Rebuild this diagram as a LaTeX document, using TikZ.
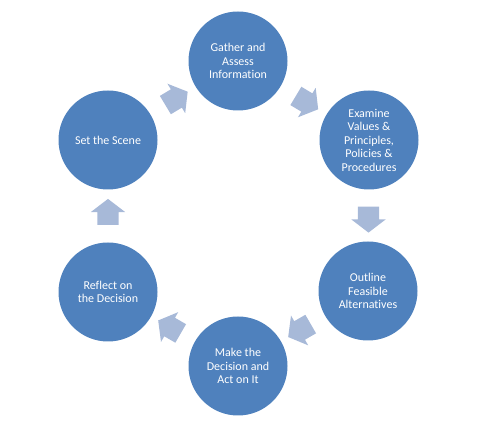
\documentclass[tikz,border=0pt]{standalone}
\usepackage{fontspec}
\setmainfont{Carlito}[Ligatures=NoCommon]
\usetikzlibrary{shapes.arrows, calc}

\definecolor{stageblue}{RGB}{79,129,189}
\definecolor{flowblue}{RGB}{167,185,216}

\tikzset{
  stage/.style={circle, fill=stageblue, text=white, minimum size=99pt, inner sep=0pt,
    align=center, font=\fontsize{12}{13.5}\selectfont},
  flow/.style={single arrow, fill=flowblue, inner xsep=0pt, inner ysep=10.5pt,
    minimum height=26pt, single arrow head extend=6.5pt, single arrow tip angle=105}
}

\begin{document}
\begin{tikzpicture}[x=1pt, y=-1pt]
\useasboundingbox (0,0) rectangle (496,435);
\coordinate (hub) at (238,215);
\node[stage] (gather) at ($(hub)+(0,-154)$) {Gather and\\Assess\\Information};
\node[stage] (examine) at ($(hub)+(131,-75)$) {Examine\\Values \&\\Principles,\\Policies \&\\Procedures};
\node[stage] (outline) at ($(hub)+(130,76)$) {Outline\\Feasible\\Alternatives};
\node[stage] (decide) at ($(hub)+(0,151)$) {Make the\\Decision and\\Act on It};
\node[stage] (reflect) at ($(hub)+(-130,77)$) {Reflect on\\the Decision};
\node[stage] (scene) at ($(hub)+(-130,-75)$) {Set the Scene};
% block arrows between the stages
\node[flow, rotate=-31] (f1) at ($(gather)!0.5!(examine)$) {};
\node[flow, rotate=-90] (f2) at ($(examine)!0.5!(outline)$) {};
\node[flow, rotate=-150] (f3) at ($(outline)!0.5!(decide)$) {};
\node[flow, rotate=150] (f4) at ($(decide)!0.5!(reflect)$) {};
\node[flow, rotate=90] (f5) at ($(reflect)!0.5!(scene)$) {};
\node[flow, rotate=31] (f6) at ($(scene)!0.5!(gather)$) {};
\end{tikzpicture}
\end{document}
